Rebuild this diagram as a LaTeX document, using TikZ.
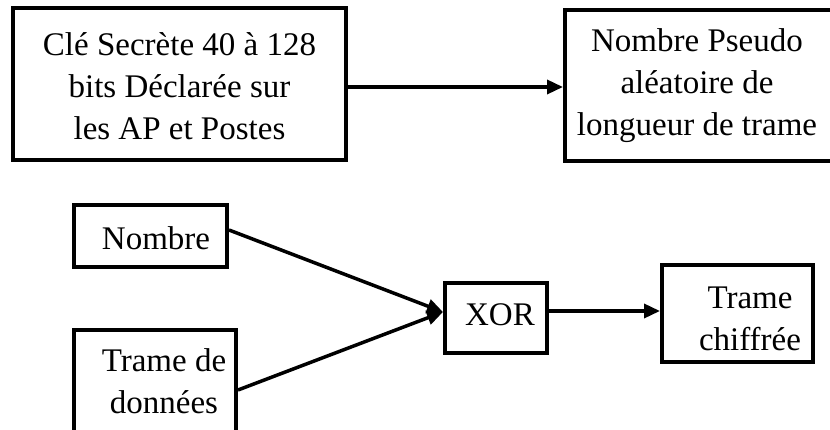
\documentclass[tikz,border=0pt]{standalone}
\usepackage{fontspec}
\setmainfont{Liberation Serif}
\usetikzlibrary{arrows.meta}
\tikzset{
  box/.style={draw, line width=4pt, rectangle, inner sep=0pt},
  txt/.style={inner sep=0pt, align=center, font=\fontsize{33pt}{42pt}\selectfont},
  arr/.style={line width=3.5pt, -{Triangle[length=16pt,width=14pt]}},
}
\begin{document}
\begin{tikzpicture}[x=1pt,y=-1pt]
\useasboundingbox (0,0) rectangle (830,430);
\clip (0,0) rectangle (830,430);
% boxes
\node[box, minimum width=333pt, minimum height=152pt] (k) at (179.5,84) {};
\node[box, minimum width=275pt, minimum height=151pt] (p) at (702.5,85.5) {};
\node[box, minimum width=153pt, minimum height=62pt] (n) at (150.5,236) {};
\node[box, minimum width=162pt, minimum height=120pt] (d) at (155,390) {};
\node[box, minimum width=102pt, minimum height=70pt] (x) at (496,318) {};
\node[box, minimum width=151pt, minimum height=97pt] (t) at (737.5,313.5) {};
% texts
\node[txt] (kt) at (179.5,86) {Clé Secrète 40 à 128\\bits Déclarée sur\\les AP et Postes};
\node[txt] (pt) at (697,86) {Nombre Pseudo\\aléatoire de\\longueur de trame};
\node[txt] (nt) at (156,238) {Nombre};
\node[txt] (dt) at (164,381) {Trame de\\données};
\node[txt] (xt) at (500,315) {XOR};
\node[txt] (tt) at (750,319) {Trame\\chiffrée};
% connectors
\coordinate (ka) at ([yshift=-3pt]k.east);
\draw[arr] (ka) -- (ka -| p.west);
\draw[arr] ([yshift=6pt]n.east) -- ([yshift=6pt]x.west);
\draw[arr] (d.east) -- ([yshift=6pt]x.west);
\coordinate (xa) at ([yshift=7pt]x.east);
\draw[arr] (xa) -- (xa -| t.west);
\end{tikzpicture}
\end{document}
